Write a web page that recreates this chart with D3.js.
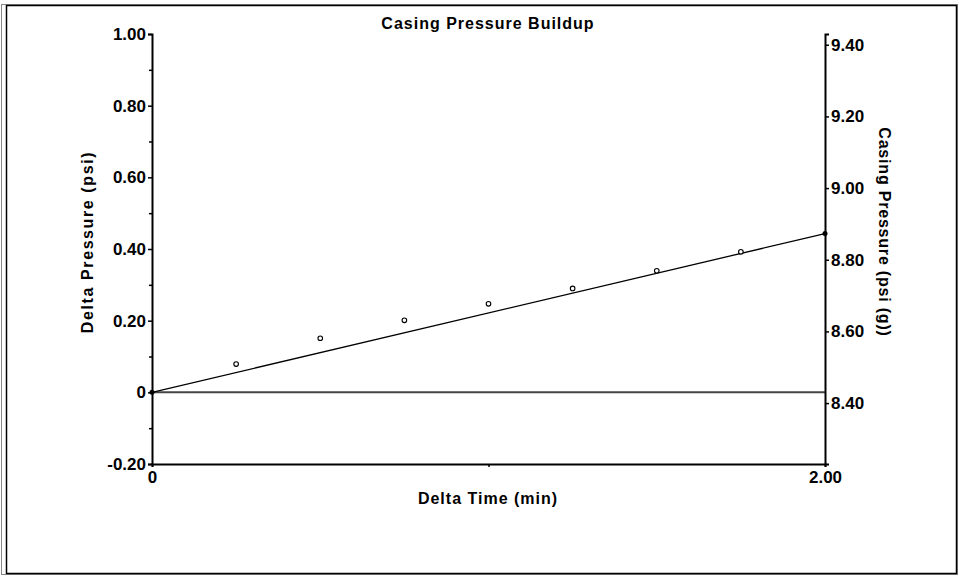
<!DOCTYPE html>
<html>
<head>
<meta charset="utf-8">
<script src="https://cdn.jsdelivr.net/npm/d3@7"></script>
<style>
  body { margin: 0; background: #fff; }
  svg { display: block; font-family: "Liberation Sans", Arial, sans-serif; }
</style>
</head>
<body>
<svg width="959" height="576"></svg>
<script>
// readings
var deltaTime = [0, 0.25, 0.50, 0.75, 1.00, 1.25, 1.50, 1.75, 2.00];
var deltaPressure = [0, 0.079, 0.151, 0.201, 0.247, 0.290, 0.339, 0.392, 0.443];
var fitLine = [[0, 0], [2.00, 0.443]];
var leftTicks = [-0.20, 0, 0.20, 0.40, 0.60, 0.80, 1.00];
var leftMinor = [-0.10, 0.10, 0.30, 0.50, 0.70, 0.90];
var rightTicks = [8.40, 8.60, 8.80, 9.00, 9.20, 9.40];
var xTicks = [0, 2.00];
var xMinor = [1.00];

var svg = d3.select('svg');

// frame
svg.append('rect').attr('x', 1.5).attr('y', 4.5).attr('width', 956).attr('height', 570)
    .attr('fill', 'none').attr('stroke', '#888').attr('stroke-width', 1);
svg.append('rect').attr('x', 6.5).attr('y', 5.5).attr('width', 950).attr('height', 568)
    .attr('fill', 'none').attr('stroke', '#000').attr('stroke-width', 1.5);

var margin = { left: 152, top: 34 };
var width = 673, height = 430;

var g = svg.append('g').attr('transform', 'translate(' + margin.left + ',' + margin.top + ')');

var x = d3.scaleLinear().domain([0, 2.00]).range([0, width]);
var y = d3.scaleLinear().domain([-0.20, 1.00]).range([height, 0]);
var y2 = d3.scaleLinear().domain([8.23, 9.43]).range([height, 0]);

// plain hyphen for negatives, bare "0" at zero
var fmt = function (d) { return d === 0 ? '0' : d.toFixed(2); };

// zero line
g.append('line')
    .attr('x1', 0).attr('x2', width)
    .attr('y1', y(0)).attr('y2', y(0))
    .attr('stroke', '#444').attr('stroke-width', 2);

// left axis
var leftAxis = g.append('g')
    .call(d3.axisLeft(y).tickValues(leftTicks).tickFormat(fmt).tickSize(4).tickPadding(2));
leftAxis.append('g').call(d3.axisLeft(y).tickValues(leftMinor).tickFormat('').tickSize(3))
    .select('.domain').remove();

// right axis
var rightAxis = g.append('g').attr('transform', 'translate(' + width + ',0)')
    .call(d3.axisRight(y2).tickValues(rightTicks).tickFormat(fmt).tickSize(4).tickPadding(2));

// bottom axis
var bottomAxis = g.append('g').attr('transform', 'translate(0,' + height + ')')
    .call(d3.axisBottom(x).tickValues(xTicks).tickFormat(fmt).tickSize(3).tickPadding(4));
bottomAxis.append('g').call(d3.axisBottom(x).tickValues(xMinor).tickFormat('').tickSize(3))
    .select('.domain').remove();

svg.selectAll('.domain').attr('stroke', '#000').attr('stroke-width', 2);
svg.selectAll('.tick line').attr('stroke', '#000').attr('stroke-width', 1.5);
svg.selectAll('.tick text')
    .attr('fill', '#000')
    .style('font-size', '17px')
    .style('font-weight', 'bold')
    .style('font-family', '"Liberation Sans", Arial, sans-serif');

// fit line
var line = d3.line()
    .x(function (d) { return x(d[0]); })
    .y(function (d) { return y(d[1]); });
g.append('path').datum(fitLine)
    .attr('d', line)
    .attr('fill', 'none').attr('stroke', '#000').attr('stroke-width', 1.3);

// end points of the fit
g.selectAll('.endpt').data(fitLine).enter().append('circle')
    .attr('class', 'endpt')
    .attr('cx', function (d) { return x(d[0]); })
    .attr('cy', function (d) { return y(d[1]); })
    .attr('r', 2.5).attr('fill', '#000');

// data points
g.selectAll('.pt').data(deltaTime.slice(1, deltaTime.length - 1)).enter().append('circle')
    .attr('class', 'pt')
    .attr('cx', function (d) { return x(d); })
    .attr('cy', function (d, i) { return y(deltaPressure[i + 1]); })
    .attr('r', 2.3)
    .attr('fill', '#fff').attr('stroke', '#000').attr('stroke-width', 1.1);

// titles
svg.append('text')
    .attr('x', 488).attr('y', 29)
    .attr('text-anchor', 'middle')
    .style('font-size', '16px').style('font-weight', 'bold').style('letter-spacing', '1px')
    .text('Casing Pressure Buildup');

svg.append('text')
    .attr('x', 488).attr('y', 504)
    .attr('text-anchor', 'middle')
    .style('font-size', '16px').style('font-weight', 'bold').style('letter-spacing', '1px')
    .text('Delta Time (min)');

svg.append('text')
    .attr('transform', 'translate(93,242) rotate(-90)')
    .attr('text-anchor', 'middle')
    .style('font-size', '16px').style('font-weight', 'bold').style('letter-spacing', '1.6px')
    .text('Delta Pressure (psi)');

svg.append('text')
    .attr('transform', 'translate(879,232) rotate(90)')
    .attr('text-anchor', 'middle')
    .style('font-size', '16px').style('font-weight', 'bold').style('letter-spacing', '0.8px')
    .text('Casing Pressure (psi (g))');
</script>
</body>
</html>
